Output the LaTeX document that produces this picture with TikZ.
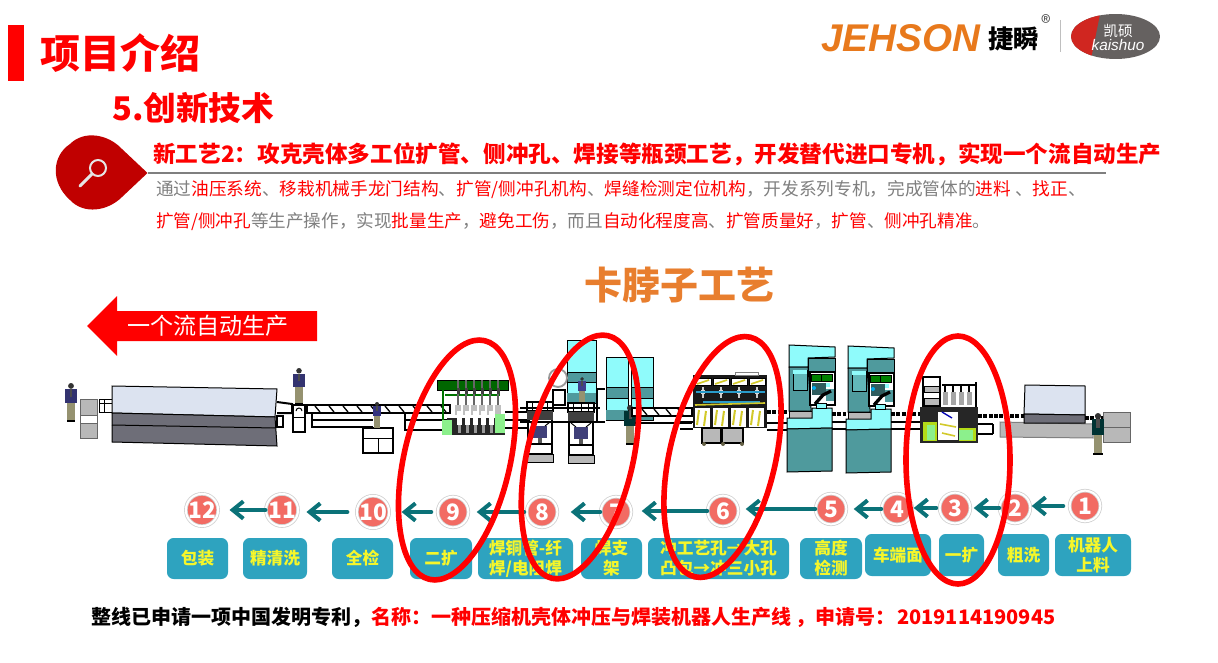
\documentclass[tikz,border=0pt]{standalone}
\usepackage{fontspec}
\setmainfont{Noto Sans CJK SC}
\newfontfamily\logofont{Liberation Sans}
\usetikzlibrary{arrows.meta, positioning, calc}

\definecolor{mainred}{HTML}{FF0000}
\definecolor{dropred}{HTML}{C00000}
\definecolor{bodygray}{HTML}{7F7F7F}
\definecolor{boxblue}{HTML}{2EA3BF}
\definecolor{boxyellow}{HTML}{F6F62A}
\definecolor{flowteal}{HTML}{0B7278}
\definecolor{dotred}{HTML}{F26B63}
\definecolor{titleorange}{HTML}{E87E2E}
\definecolor{logoorange}{HTML}{E8791C}
\definecolor{logogray}{HTML}{656160}
\definecolor{logored}{HTML}{D02620}
\definecolor{cyanlight}{HTML}{8FFBFB}
\definecolor{tealbody}{HTML}{4F9A9D}
\definecolor{panelblue}{HTML}{DCE3F0}
\definecolor{ovengray}{HTML}{6E6E78}
\definecolor{boxgray}{HTML}{B8B8B8}
\definecolor{weldgreen}{HTML}{8CF08C}

\newcommand{\hl}[1]{\textcolor{mainred}{#1}}
\newcommand{\fsize}[1]{\fontsize{#1}{#1}\selectfont}

\tikzset{
  edge/.style={draw=black, line width=0.75pt},
  thickedge/.style={draw=black, line width=1.5pt},
  ring/.style={draw=mainred, line width=4.2pt},
  flowarrow/.style={draw=flowteal, line width=3pt, line cap=round, -{Straight Barb[length=8pt,width=13pt,line width=3pt]}},
  numdot/.style={circle, fill=dotred, draw=black!18, line width=0.6pt, double=white, double distance=1.5pt, minimum size=23pt, inner sep=0pt, text=white, font=\fsize{17}\bfseries},
  stepbox/.style={rectangle, rounded corners=5pt, fill=boxblue, text=boxyellow, align=center, inner sep=0pt, font=\fontsize{12.5}{15}\selectfont\bfseries},
}

% one worker, top at (#1,#2), #3 high
\newcommand{\worker}[4]{
  \begin{scope}[shift={(#1,#2)}, scale=#3/40]
    \fill[black!80] (0,3) circle (3);
    \fill[#4] (-6,6) rectangle (6,21);
    \fill[black!70] (-1.5,6) rectangle (1.5,14);
    \fill[black!45!yellow!45!gray] (-4,21) rectangle (-0.4,38);
    \fill[black!45!yellow!45!gray] (0.4,21) rectangle (4,38);
    \fill[black] (-4.5,38) rectangle (4.5,40);
  \end{scope}
}

% teal machine, top left corner at #1
\newcommand{\tealmachine}[1]{
  \begin{scope}[shift={#1}]
    \filldraw[edge, fill=cyanlight] (0,0) -- (46,2) -- (46,12) -- (19,13) -- (19,22) -- (0,22) -- cycle;
    \filldraw[edge, fill=tealbody] (0,22) -- (19,22) -- (22,63) -- (22,66) -- (0,66) -- cycle;
    \filldraw[edge, fill=tealbody] (19,13) rectangle (46,27);
    \filldraw[edge, fill=tealbody!70!cyanlight] (4,25) rectangle (18,45);
    \fill[cyanlight] (4,25) rectangle (18,29);
    \filldraw[draw=black, line width=1.1pt, fill=white] (21,27) rectangle (46,60);
    \filldraw[edge, fill=green!50!black] (22,29) rectangle (43,36);
    \draw[edge] (32.5,29) -- (32.5,36);
    \fill[cyanlight] (30,38) rectangle (41,42);
    \fill[tealbody!60!black] (23,38) rectangle (37,50);
    \fill[tealbody] (37,44) rectangle (45,56);
    \fill[cyan] (25,43) circle (2);
    \draw[black, line width=2.5pt] (26,59) -- (34,50) -- (42,46);
    \filldraw[edge, fill=boxgray] (0,66) rectangle (23,73);
    \filldraw[edge, fill=cyanlight] (-2,73) -- (23,73) -- (23,63) -- (43,63) -- (43,83) -- (-2,84) -- cycle;
    \filldraw[edge, fill=cyanlight] (27,58) rectangle (37,63);
    \filldraw[edge, fill=tealbody] (-2,84) -- (43,83) -- (43,126) -- (-2,127) -- cycle;
  \end{scope}
}

% welding station, top left corner at #1
\newcommand{\weldstation}[1]{
  \begin{scope}[shift={#1}]
    \draw[thickedge] (0,0) rectangle (26,9);
    \draw[thickedge] (1,9) -- (1,52) (25,9) -- (25,52);
    \draw[edge] (5,0) -- (5,9) (13,0) -- (13,9) (20,0) -- (20,9);
    \fill[black!75] (0,9) rectangle (26,18);
    \fill[black!55!blue!50!gray] (6,24) rectangle (20,36);
    \draw[edge] (3,20) -- (8,24) (23,20) -- (18,24);
    \fill[black!65] (11,36) rectangle (15,42);
    \filldraw[thickedge, fill=white] (1,42) rectangle (25,52);
    \filldraw[edge, fill=boxgray] (0,52) rectangle (26,60);
  \end{scope}
}

\begin{document}
\begin{tikzpicture}[x=0.75pt, y=-0.75pt]
  \useasboundingbox (0,0) rectangle (1218,663);

  % title
  \fill[mainred] (8,25) rectangle (24,81);
  \node[anchor=west, inner sep=0pt, text=mainred, font=\fsize{30}\bfseries] (title) at (40,53) {项目介绍};
  \node[anchor=west, inner sep=0pt, text=mainred, font=\fsize{24.5}\bfseries] (subtitle) at (112,108) {5.创新技术};

  % logos
  \node[anchor=west, inner sep=0pt, text=logoorange, font=\logofont\fsize{29}\bfseries\itshape] (jehson) at (821,38) {JEHSON};
  \node[anchor=west, inner sep=0pt, text=black, font=\fsize{19}\bfseries] (jiexun) at (988,39) {捷瞬};
  \node[inner sep=0pt, text=black!70, font=\fsize{15}] (regmark) at (1046,23) {®};
  \draw[black!25] (1060,20) -- (1060,52);
  \begin{scope}
    \clip (1115.5,36.5) ellipse [x radius=44.5, y radius=22.5];
    \fill[logogray] (1071,14) rectangle (1160,59);
    \fill[logored] (1071,14) -- (1100,14) -- (1091,59) -- (1071,59) -- cycle;
  \end{scope}
  \node[inner sep=0pt, text=white, font=\fsize{11}\itshape] (kaishuocn) at (1118,31) {凯硕};
  \node[inner sep=0pt, text=white, font=\logofont\fsize{11.5}\itshape] (kaishuoen) at (1118,45) {kaishuo};

  % heading with drop
  \fill[dropred] (147.5,173) -- (122,197) .. controls (108,211) and (84,215) .. (70,200) .. controls (50,182) and (52,156) .. (70,144) .. controls (84,130) and (108,134) .. (122,149) -- cycle;
  \draw[white!90!black, line width=1.5pt] (98,168) circle (8);
  \draw[white!90!black, line width=2.2pt, line cap=round] (92,174) -- (80,186);
  \draw[bodygray, line width=1.6pt] (148,173) -- (1106,173);
  \node[anchor=west, inner sep=0pt, text=mainred, font=\fsize{16.95}\bfseries] (heading) at (153,154) {新工艺2：攻克壳体多工位扩管、侧冲孔、焊接等瓶颈工艺，开发替代进口专机，实现一个流自动生产};
  \node[anchor=west, inner sep=0pt, text=bodygray, font=\fsize{13.25}] (bodyone) at (156,190) {通过\hl{油压系统}、\hl{移栽机械手龙门结构}、\hl{扩管/侧冲孔机构}、\hl{焊缝检测定位机构}，开发系列专机，完成管体的\hl{进料} 、\hl{找正}、};
  \node[anchor=west, inner sep=0pt, text=bodygray, font=\fsize{13.2}] (bodytwo) at (156,222) {\hl{扩管/侧冲孔}等生产操作，实现\hl{批量生产}，\hl{避免工伤}，而且\hl{自动化程度高}、\hl{扩管质量好}，\hl{扩管}、\hl{侧冲孔精准}。};

  \node[inner sep=0pt, text=titleorange, font=\fsize{28.5}\bfseries] (craft) at (679,285) {卡脖子工艺};

  % big arrow
  \fill[mainred] (87,326) -- (117,296) -- (117,311) -- (317,311) -- (317,341) -- (117,341) -- (117,356) -- cycle;
  \node[inner sep=0pt, text=white, font=\fsize{17.3}] (flowlabel) at (208,326) {一个流自动生产};

  % oven and packing end
  \worker{71}{383}{39}{black!60!blue!60!gray}
  \filldraw[edge, fill=boxgray, draw=black!60] (80,399) rectangle (97,438);
  \filldraw[edge, fill=white, draw=black!60] (80,415) rectangle (97,423);
  \draw[edge, fill=white] (99,399) rectangle (112,412);
  \draw[edge] (99,403) -- (112,403) (104,399) -- (104,412);
  \filldraw[edge, fill=panelblue] (112,386) -- (277,389) -- (275,417) -- (112,413) -- cycle;
  \filldraw[edge, fill=ovengray] (112,413) -- (275,417) -- (277,446) -- (112,442) -- cycle;
  \draw[edge] (112,425) -- (275,428);
  \draw[thickedge, fill=white] (277,402) -- (292,404) -- (292,413) -- (277,413);
  \draw[thickedge] (277,416) rectangle (283,427);

  % inspection and conveyor
  \worker{299}{368}{37}{black!60!blue!60!gray}
  \filldraw[thickedge, fill=white] (293,405) rectangle (305,432);
  \draw[edge] (293,417) -- (305,417);
  \draw[edge] (296,411) arc (180:360:3);
  \filldraw[thickedge, fill=white] (307,405) rectangle (450,413);
  \foreach \xpos in {315,329,...,441} {
    \draw[black, line width=1pt] (\xpos,406) -- (\xpos+5,412);
  }
  \draw[thickedge] (312,413) -- (312,427) -- (373,427) (312,420) -- (373,420);
  \draw[thickedge] (405,414) -- (405,430) -- (447,430) (405,420) -- (447,420);
  \filldraw[thickedge, fill=white] (363,428) rectangle (393,453);
  \draw[edge] (363,438) -- (393,438) (378,438) -- (378,453);
  \worker{377}{402}{27}{black!50!blue!60!gray}

  % machine at station 9
  \filldraw[edge, fill=black!60!green] (437,380) rectangle (508,390);
  \draw[green!45!black, line width=1.5pt] (443,390) -- (443,420) (445,395) -- (500,395);
  \foreach \xpos in {458,466,...,498} {
    \draw[black!60, line width=1pt] (\xpos,380) -- (\xpos,405);
    \fill[black!75] (\xpos-1.5,388) rectangle (\xpos+1.5,394);
    \fill[black!25] (\xpos-3,405) rectangle (\xpos+3,415);
  }
  \fill[black!85] (447,418) rectangle (505,435);
  \fill[weldgreen] (442,420) rectangle (452,435);
  \fill[weldgreen] (495,414) rectangle (505,433);
  \foreach \xpos in {457,465,...,489} {
    \fill[white] (\xpos,411) rectangle (\xpos+5,425);
    \fill[black!40] (\xpos+1,425) rectangle (\xpos+4,433);
  }
  \draw[thickedge] (505,412) -- (530,412) (505,420) -- (530,420) (505,428) -- (527,428);

  % welding towers and stations
  \foreach \xa/\ya/\xb/\yb/\ybone/\ybtwo in {567/340/596/403/372/382, 606/357/628/420/387/398, 631/357/653/420/387/398} {
    \filldraw[edge, fill=cyanlight] (\xa,\ya) rectangle (\xb,\yb);
    \filldraw[edge, fill=tealbody] (\xa,\ybone) rectangle (\xb,\ybtwo);
    \fill[tealbody] (\xa,\yb-10) rectangle (\xb,\yb);
  }
  \draw[black!40, line width=1.4pt] (558,378) circle (9);
  \filldraw[thickedge, fill=white] (553,390) rectangle (565,405);
  \draw[thickedge] (597,389) -- (605,389) (597,389) -- (597,422) -- (605,422);
  \weldstation{(527,402)}
  \weldstation{(568,403)}
  \draw[thickedge] (520,408) -- (600,408) (520,422) -- (600,422);
  \worker{582}{377}{26}{black!40!blue!50!gray}
  \worker{630}{405}{40}{black!60!teal}
  \filldraw[thickedge, fill=white] (632,408) rectangle (692,416);
  \foreach \xpos in {642,654,...,680} {
    \draw[black, line width=1pt] (\xpos,409) -- (\xpos+5,415);
  }
  \draw[thickedge] (635,423) -- (692,423);

  % machine at station 6
  \fill[black!90] (693,375) rectangle (767,428);
  \filldraw[edge, fill=white, draw=black!50] (735,372) rectangle (758,375);
  \foreach \xpos in {695,713,731,749} {
    \filldraw[black, fill=white] (\xpos,378) rectangle (\xpos+16,385);
    \draw[yellow!80!black, line width=1.2pt] (\xpos+2,384) -- (\xpos+14,380);
    \fill[white] (\xpos,408) rectangle (\xpos+15,427);
    \draw[yellow!80!black, line width=1.5pt] (\xpos+4,410) -- (\xpos+2,425) (\xpos+11,411) -- (\xpos+9,426);
    \draw[black!20, line width=1pt] (\xpos+8,387) -- (\xpos+8,398);
    \fill[black!15] (\xpos+8,392) circle (2.5);
  }
  \draw[cyan!80!black, line width=1pt] (696,392) -- (765,392) (703,402) -- (760,402);
  \draw[yellow!80!black, line width=1.2pt] (695,405) -- (765,403);
  \filldraw[thickedge, fill=boxgray] (702,428) rectangle (721,443);
  \filldraw[thickedge, fill=boxgray] (722,428) rectangle (743,443);
  \foreach \xpos in {704,723,742} {
    \fill[black!70!yellow] (\xpos,444) circle (2);
  }
  \draw[thickedge] (680,422) -- (693,422) (680,429) -- (693,429);
  \draw[black, line width=2.5pt, dash pattern=on 3pt off 1pt] (767,412) -- (787,412);
  \draw[thickedge] (767,423) -- (787,423) (767,430) -- (787,430);

  % teal machines
  \tealmachine{(789,345)}
  \tealmachine{(848,346)}
  \draw[black, line width=2.5pt, dash pattern=on 3pt off 1pt] (832,414) -- (846,414);
  \draw[thickedge] (832,422) -- (846,422) (832,429) -- (846,429);
  \draw[black, line width=2.5pt, dash pattern=on 3pt off 1pt] (891,414) -- (922,414);
  \draw[thickedge] (891,422) -- (920,422) (891,429) -- (920,429);

  % machine at station 3
  \filldraw[thickedge, fill=white] (923,377) rectangle (940,407);
  \filldraw[edge, fill=boxgray] (924,386) rectangle (939,392);
  \filldraw[edge, fill=boxgray] (924,398) rectangle (939,405);
  \foreach \xpos in {945,953,961,969} {
    \draw[black, line width=1pt] (\xpos,385) -- (\xpos,392);
    \fill[black!35] (\xpos-2.5,392) rectangle (\xpos+2.5,405);
  }
  \draw[black, line width=1.2pt] (942,385) -- (976,385) (976,382) -- (976,410);
  \fill[black!85] (920,407) rectangle (978,443);
  \fill[white] (938,412) rectangle (958,440);
  \fill[yellow!70!green] (923,422) rectangle (937,441);
  \fill[weldgreen] (927,425) rectangle (935,440);
  \fill[yellow!70!green] (959,428) rectangle (976,441);
  \fill[weldgreen] (959,430) rectangle (973,440);
  \draw[blue!70!black, line width=1pt] (942,412) -- (952,418);
  \draw[yellow!80!black, line width=1.2pt] (940,424) -- (956,427) (942,433) -- (955,436);
  \draw[black, line width=2.5pt, dash pattern=on 3pt off 1pt] (978,416) -- (1025,416);
  \draw[thickedge] (978,424) -- (993,424) (978,434) -- (993,434) (993,424) -- (993,434);

  % washer and loading end
  \filldraw[edge, fill=boxgray, draw=black!50] (1000,422) -- (1093,424) -- (1093,438) -- (1000,437) -- cycle;
  \filldraw[edge, fill=panelblue] (1025,385) -- (1085,386) -- (1085,415) -- (1024,414) -- cycle;
  \filldraw[edge, fill=ovengray] (1024,414) -- (1085,415) -- (1085,423) -- (1024,423) -- cycle;
  \draw[black, line width=2.5pt, dash pattern=on 3pt off 1pt] (1085,418) -- (1103,418);
  \filldraw[edge, fill=boxgray, draw=black!60] (1103,412) rectangle (1130,427);
  \filldraw[edge, fill=boxgray, draw=black!60] (1103,427) rectangle (1130,442);
  \worker{1098}{413}{42}{black!60!teal}

  % numbered steps
  \foreach \num/\xpos/\ypos in {1/1085/506, 2/1015/508, 3/955/508, 4/897/509, 5/831/509, 6/723/511, 7/616/512, 8/542/512, 9/453/512, 10/373/512, 11/282/510, 12/202/510} {
    \node[numdot] (n\num) at (\xpos,\ypos) {\num};
  }
  \foreach \a/\b/\gapa/\gapb in {1/2/6/1, 2/3/0/3, 3/4/3/1, 4/5/0/7, 5/6/0/7, 6/7/0/10, 7/8/0/13, 8/9/2/8, 9/10/6/12, 10/11/9/8, 11/12/0/11} {
    \draw[flowarrow, shorten <=\gapa*0.75pt, shorten >=\gapb*0.75pt] (n\a.west) -- (n\a.west -| n\b.east);
  }

  \foreach \num/\xa/\ya/\xb/\yb/\txt in {
    1/1055/534/1131/576/{机器人\\上料},
    2/998/534/1049/576/{粗洗},
    3/939/534/984/576/{一扩},
    4/865/534/931/576/{车端面},
    5/800/538/862/579/{高度\\检测},
    6/648/538/789/579/{冲工艺孔→大孔\\凸包→冲三小孔},
    7/581/538/642/579/{焊支\\架},
    8/478/538/573/579/{焊铜管-纤\\焊/电阻焊},
    9/410/538/472/579/{二扩},
    10/332/538/393/579/{全检},
    11/243/538/307/579/{精清洗},
    12/167/538/228/579/{包装}} {
    \node[stepbox, minimum width=(\xb-\xa)*0.75pt, minimum height=(\yb-\ya)*0.75pt] (box\num) at ({(\xa+\xb)/2},{(\ya+\yb)/2}) {\txt};
  }

  % red rings
  \draw[ring] (457,460) ellipse [x radius=53, y radius=122.5, rotate=-13];
  \draw[ring] (580,457) ellipse [x radius=53, y radius=124.5, rotate=-13];
  \draw[ring] (722.5,457) ellipse [x radius=53, y radius=123, rotate=-13];
  \draw[ring] (958,460) ellipse [x radius=52, y radius=124];

  % patent line
  \node[anchor=west, inner sep=0pt, text=black, font=\fsize{15}\bfseries] (patent) at (91,617) {整线已申请一项中国发明专利，\hl{名称：一种压缩机壳体冲压与焊装机器人生产线 ，申请号：\hspace{1pt}2019114190945}};
\end{tikzpicture}
\end{document}
